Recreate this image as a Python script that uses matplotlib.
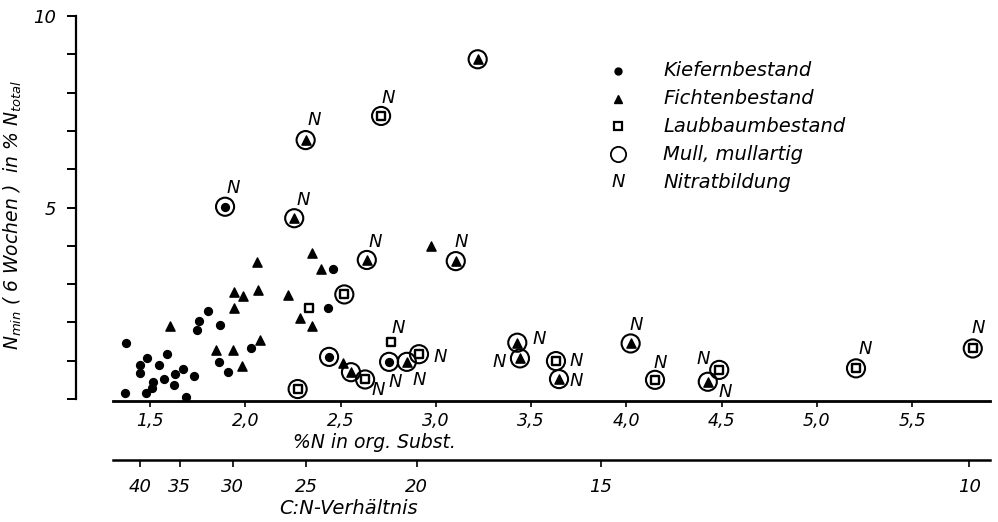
import matplotlib
matplotlib.use("Agg")
import matplotlib.pyplot as plt
from matplotlib.ticker import FixedLocator, FixedFormatter

plt.rcParams['font.family'] = ['DejaVu Sans']
plt.rcParams['font.style'] = 'italic'
plt.rcParams['mathtext.fontset'] = 'dejavusans'

# ---- data: x = % N in organic substance, y = N_min (6 weeks) in % N_total ----
# Kiefernbestand (dots), not Mull
kiefer_n = [1.374, 1.369, 1.448, 1.448, 1.486, 1.479, 1.509, 1.514, 1.549, 1.573,
            1.588, 1.628, 1.631, 1.675, 1.687, 1.733, 1.757, 1.748, 1.806, 1.866,
            1.864, 1.911, 2.030, 2.436, 2.459]
kiefer_v = [1.47, 0.16, 0.89, 0.68, 1.06, 0.15, 0.28, 0.44, 0.89, 0.51,
            1.17, 0.37, 0.65, 0.78, 0.06, 0.60, 2.04, 1.80, 2.30, 1.92,
            0.97, 0.70, 1.32, 2.37, 3.39]
# Fichtenbestand (triangles), not Mull
fichte_n = [1.605, 1.846, 1.941, 1.990, 1.941, 2.069, 2.060, 1.937, 1.981, 2.077,
            2.349, 2.398, 2.223, 2.287, 2.352, 2.975, 2.512]
fichte_v = [1.91, 1.28, 2.80, 2.70, 2.38, 2.85, 3.58, 1.28, 0.86, 1.54,
            3.80, 3.39, 2.72, 2.11, 1.90, 4.00, 0.95]
# Laubbaumbestand (squares), not Mull
laub_n = [2.337, 2.765]
laub_v = [2.38, 1.48]
# Mull, mullartig (circled)
mull_kiefer_n = [1.894, 2.440, 2.755]
mull_kiefer_v = [5.02, 1.10, 0.97]
mull_fichte_n = [2.317, 2.257, 2.638, 3.105, 3.220, 2.555, 2.848, 3.428, 3.442,
                 3.647, 4.023, 4.428]
mull_fichte_v = [6.76, 4.72, 3.63, 3.60, 8.87, 0.70, 0.97, 1.47, 1.06,
                 0.52, 1.45, 0.45]
mull_laub_n = [2.713, 2.275, 2.520, 2.629, 2.912, 3.631, 4.151, 4.488, 5.206, 5.819]
mull_laub_v = [7.39, 0.26, 2.73, 0.51, 1.17, 0.99, 0.50, 0.76, 0.80, 1.32]
# "N" (Nitratbildung) label positions
nitrat_n = [1.937, 2.302, 2.362, 2.751, 2.681, 3.132, 2.802, 3.022, 2.697, 2.790,
            2.912, 3.544, 3.334, 3.740, 3.736, 4.055, 4.177, 4.404, 4.518, 5.253,
            5.848]
nitrat_v = [5.50, 5.20, 7.28, 7.85, 4.11, 4.11, 1.85, 1.10, 0.23, 0.44,
            0.50, 1.56, 0.97, 0.99, 0.47, 1.93, 0.93, 1.04, 0.19, 1.30,
            1.85]

pct_ticks = [1.5, 2.0, 2.5, 3.0, 3.5, 4.0, 4.5, 5.0, 5.5]
pct_labels = ["1,5", "2,0", "2,5", "3,0", "3,5", "4,0", "4,5", "5,0", "5,5"]
cn_ticks = [40, 35, 30, 25, 20, 15, 10]
cn_labels = ["40", "35", "30", "25", "20", "15", "10"]
CARBON_PCT = 58.0  # C:N = 58 / %N
y_ticks = [0, 1, 2, 3, 4, 5, 6, 7, 8, 9, 10]
y_labels = ["", "", "", "", "", "5", "", "", "", "", "10"]

legend_labels = ["Kiefernbestand", "Fichtenbestand", "Laubbaumbestand",
                 "Mull, mullartig", "Nitratbildung"]

W, H = 998, 522
fig = plt.figure(figsize=(W / 100, H / 100), dpi=100)

def fx(px):
    return px / W

def fy(py):
    return 1 - py / H

x_left_px, x_right_px = 76, 990
y_top_px, y_bot_px = 16, 401.3
ax = fig.add_axes([fx(x_left_px), fy(y_bot_px), fx(x_right_px) - fx(x_left_px),
                   fy(y_top_px) - fy(y_bot_px)])
xmin, xmax = 1.1115, 5.9094
ax.set_xlim(xmin, xmax)
ax.set_ylim(-0.06, 10.0)

for s in ['top', 'right']:
    ax.spines[s].set_visible(False)
ax.spines['left'].set_bounds(0, 10)
ax.spines['bottom'].set_bounds(1.306, xmax)
ax.spines['left'].set_linewidth(1.6)
ax.spines['bottom'].set_linewidth(2.0)

ax.yaxis.set_major_locator(FixedLocator(y_ticks))
ax.yaxis.set_major_formatter(FixedFormatter(y_labels))
ax.xaxis.set_major_locator(FixedLocator(pct_ticks))
ax.xaxis.set_major_formatter(FixedFormatter(pct_labels))
ax.tick_params(axis='y', direction='out', length=6.5, width=1.4, pad=8,
               labelsize=13)
ax.tick_params(axis='x', direction='out', length=4, width=1.2, pad=4,
               labelsize=12.5)

ax.set_ylabel(r"$N_{min}$ ( 6 Wochen )  in % $N_{total}$", fontsize=13.5,
              labelpad=6)
ax.yaxis.set_label_coords(fx(24 - x_left_px) / (fx(x_right_px) - fx(x_left_px)),
                          (fy(215) - fy(y_bot_px)) / (fy(y_top_px) - fy(y_bot_px)))

# circles (Mull)
circ_n = mull_kiefer_n + mull_fichte_n + mull_laub_n
circ_v = mull_kiefer_v + mull_fichte_v + mull_laub_v
ax.scatter(circ_n, circ_v, s=170, facecolors='none', edgecolors='black',
           linewidths=1.5, zorder=3, clip_on=False)

dot_kw = dict(s=32, marker='o', color='black', edgecolors='black', zorder=4,
              clip_on=False)
tri_kw = dict(s=44, marker='^', color='black', edgecolors='black', zorder=4,
              clip_on=False)
sq_kw = dict(s=34, marker='s', facecolors='white', edgecolors='black',
             linewidths=1.7, zorder=4, clip_on=False)

ax.scatter(kiefer_n + mull_kiefer_n, kiefer_v + mull_kiefer_v, **dot_kw)
ax.scatter(fichte_n + mull_fichte_n, fichte_v + mull_fichte_v, **tri_kw)
ax.scatter(laub_n + mull_laub_n, laub_v + mull_laub_v, **sq_kw)

for xn, yv in zip(nitrat_n, nitrat_v):
    ax.text(xn, yv, "N", fontsize=13, ha='center', va='center', zorder=5)

# legend drawn by hand at figure positions
leg_x_sym, leg_x_txt = 618, 663
leg_rows = [71, 99, 126, 154, 182]
fig_kw = dict(transform=fig.transFigure, clip_on=False)
fig.add_artist(plt.Line2D([fx(leg_x_sym)], [fy(leg_rows[0])], marker='o',
                          markersize=5, color='black', **fig_kw))
fig.add_artist(plt.Line2D([fx(leg_x_sym)], [fy(leg_rows[1])], marker='^',
                          markersize=6, color='black', **fig_kw))
fig.add_artist(plt.Line2D([fx(leg_x_sym)], [fy(leg_rows[2])], marker='s',
                          markersize=5.5, markerfacecolor='white',
                          markeredgecolor='black', markeredgewidth=1.6, **fig_kw))
fig.add_artist(plt.Line2D([fx(leg_x_sym)], [fy(leg_rows[3])], marker='o',
                          markersize=11, markerfacecolor='none',
                          markeredgecolor='black', markeredgewidth=1.3, **fig_kw))
fig.text(fx(leg_x_sym), fy(leg_rows[4]), "N", fontsize=13, ha='center',
         va='center')
for lab, ry in zip(legend_labels, leg_rows):
    fig.text(fx(leg_x_txt), fy(ry), lab, fontsize=14, ha='left', va='center')

# %N axis title
fig.text(fx(374), fy(443), "%N in org. Subst.", fontsize=13.5, ha='center',
         va='center')

# C:N axis
ax2 = fig.add_axes([fx(x_left_px), fy(460), fx(x_right_px) - fx(x_left_px), 0.0001])
ax2.set_xlim(xmin, xmax)
ax2.set_ylim(0, 1)
for s in ['top', 'right', 'left']:
    ax2.spines[s].set_visible(False)
ax2.spines['bottom'].set_bounds(1.306, xmax)
ax2.spines['bottom'].set_linewidth(1.8)
ax2.set_yticks([])
ax2.patch.set_visible(False)
ax2.xaxis.set_major_locator(FixedLocator([CARBON_PCT / c for c in cn_ticks]))
ax2.xaxis.set_major_formatter(FixedFormatter(cn_labels))
ax2.tick_params(axis='x', direction='out', length=5, width=1.2, pad=8,
                labelsize=13)
fig.text(fx(348), fy(508), "C:N-Verhältnis", fontsize=14, ha='center',
         va='center')

fig.savefig("out.png", dpi=100)
